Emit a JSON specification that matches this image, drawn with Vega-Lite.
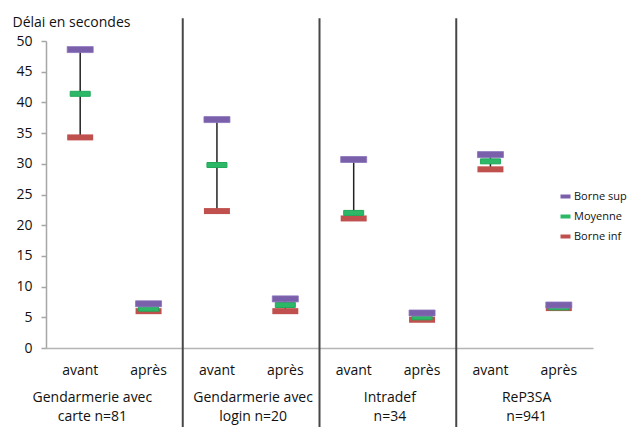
{
  "$schema": "https://vega.github.io/schema/vega-lite/v6.json",
  "width": 547,
  "height": 307,
  "autosize": "none",
  "padding": {"left": 46, "top": 41, "right": 34, "bottom": 79},
  "background": "white",
  "config": {
    "view": {"stroke": null},
    "font": "Open Sans",
    "axis": {"grid": false, "labelColor": "#111111", "titleColor": "#111111", "labelFontSize": 14, "titleFontSize": 14, "titleFontWeight": "normal"},
    "axisY": {"domainColor": "#a6a6a6", "domainWidth": 1.5, "tickColor": "#a6a6a6", "tickWidth": 1.5, "tickSize": 5, "labelPadding": 9, "labelOverlap": false, "titleAngle": 0, "titleAlign": "left", "titleBaseline": "alphabetic", "titleX": -34, "titleY": -15},
    "legend": {"labelFont": "Open Sans", "labelFontSize": 11, "labelColor": "#111111"}
  },
  "datasets": {
    "d": [
      {"cat": "1 avant", "sup": 48.6, "moy": 41.4, "inf": 34.3},
      {"cat": "1 après", "sup": 7.2, "moy": 6.4, "inf": 6.0},
      {"cat": "2 avant", "sup": 37.2, "moy": 29.8, "inf": 22.3},
      {"cat": "2 après", "sup": 8.0, "moy": 7.0, "inf": 6.0},
      {"cat": "3 avant", "sup": 30.7, "moy": 22.0, "inf": 21.1},
      {"cat": "3 après", "sup": 5.7, "moy": 5.0, "inf": 4.6},
      {"cat": "4 avant", "sup": 31.5, "moy": 30.4, "inf": 29.1},
      {"cat": "4 après", "sup": 7.0, "moy": 6.6, "inf": 6.5}
    ],
    "g": [
      {"grp": "Gendarmerie avec|carte n=81", "sep": false},
      {"grp": "Gendarmerie avec|login n=20", "sep": true},
      {"grp": "Intradef|n=34", "sep": true},
      {"grp": "ReP3SA|n=941", "sep": true}
    ]
  },
  "resolve": {"scale": {"x": "independent"}, "axis": {"x": "independent"}},
  "layer": [
    {
      "data": {"name": "g"},
      "transform": [{"filter": "datum.sep"}],
      "mark": {"type": "rule", "color": "#474747", "strokeWidth": 2},
      "encoding": {
        "x": {
          "field": "grp", "type": "nominal", "bandPosition": 0,
          "scale": {"domain": ["Gendarmerie avec|carte n=81", "Gendarmerie avec|login n=20", "Intradef|n=34", "ReP3SA|n=941"], "paddingInner": 0, "paddingOuter": 0},
          "axis": {"orient": "bottom", "title": null, "domain": false, "ticks": false, "tickSize": 0, "labelPadding": 42, "labelAngle": 0, "labelLineHeight": 19, "labelExpr": "split(datum.label, '|')", "labelOffset": {"condition": {"test": "datum.value === 'Gendarmerie avec|carte n=81'", "value": -22}, "value": 2}}
        },
        "y": {"datum": 53.7, "type": "quantitative", "title": "Délai en secondes", "scale": {"domain": [0, 50], "nice": false}, "axis": {"values": [0, 5, 10, 15, 20, 25, 30, 35, 40, 45, 50]}},
        "y2": {"datum": -13.5}
      }
    },
    {
      "data": {"name": "d"},
      "layer": [
        {
          "mark": {"type": "rule", "color": "#222222", "strokeWidth": 1.5},
          "encoding": {
            "x": {
              "field": "cat", "type": "nominal", "sort": null,
              "scale": {"paddingInner": 0, "paddingOuter": 0},
              "axis": {"orient": "bottom", "title": null, "domainColor": "#b5b5b5", "domainWidth": 1.5, "ticks": false, "tickSize": 0, "labelPadding": 15, "labelAngle": 0, "labelExpr": "split(datum.label, ' ')[1]"}
            },
            "y": {"field": "inf", "type": "quantitative", "title": "Délai en secondes", "scale": {"domain": [0, 50], "nice": false}, "axis": {"values": [0, 5, 10, 15, 20, 25, 30, 35, 40, 45, 50]}},
            "y2": {"field": "sup"}
          }
        },
        {
          "mark": {"type": "tick", "thickness": 6, "size": 26, "opacity": 1},
          "encoding": {
            "x": {"field": "cat", "type": "nominal", "sort": null},
            "y": {"field": "inf", "type": "quantitative", "title": "Délai en secondes", "axis": {"values": [0, 5, 10, 15, 20, 25, 30, 35, 40, 45, 50]}},
            "color": {
              "datum": "Borne inf",
              "scale": {"domain": ["Borne sup", "Moyenne", "Borne inf"], "range": ["#7A5FAA", "#2DB867", "#C0504D"]},
              "legend": {"title": null, "orient": "none", "legendX": 514, "legendY": 150, "padding": 0, "symbolType": "M-1,-0.4H1V0.4H-1Z", "symbolSize": 100, "symbolStrokeWidth": 0, "symbolOpacity": 1, "rowPadding": 8, "labelOffset": 3}
            }
          }
        },
        {
          "mark": {"type": "tick", "thickness": 5, "size": 20, "opacity": 1, "stroke": "#22a85a", "strokeWidth": 1},
          "encoding": {
            "x": {"field": "cat", "type": "nominal", "sort": null},
            "y": {"field": "moy", "type": "quantitative", "title": "Délai en secondes", "axis": {"values": [0, 5, 10, 15, 20, 25, 30, 35, 40, 45, 50]}},
            "color": {"datum": "Moyenne"}
          }
        },
        {
          "mark": {"type": "tick", "thickness": 6, "size": 26, "opacity": 1, "stroke": "#8a74bb", "strokeWidth": 0.8},
          "encoding": {
            "x": {"field": "cat", "type": "nominal", "sort": null},
            "y": {"field": "sup", "type": "quantitative", "title": "Délai en secondes", "axis": {"values": [0, 5, 10, 15, 20, 25, 30, 35, 40, 45, 50]}},
            "color": {"datum": "Borne sup"}
          }
        }
      ]
    }
  ]
}
